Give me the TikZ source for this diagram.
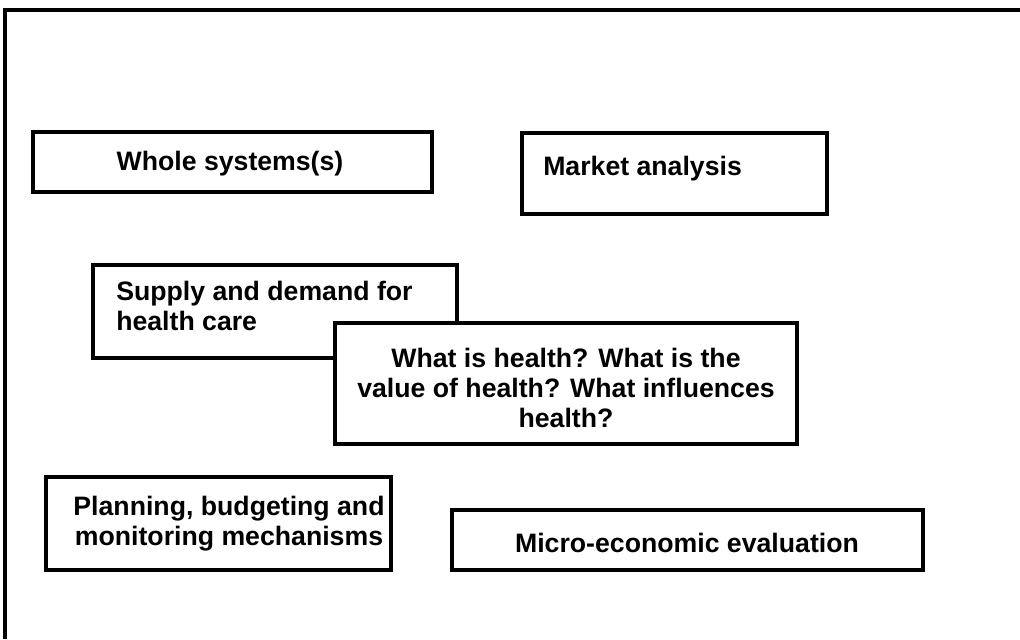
\documentclass[tikz,border=0pt]{standalone}
\usepackage{fontspec}
\setmainfont{Liberation Sans}
\usetikzlibrary{positioning}
\tikzset{
  panel/.style={draw=black, line width=3pt, fill=white},
  caption/.style={inner sep=0pt, font=\fontsize{20}{22.5}\selectfont\bfseries}
}
\begin{document}
\begin{tikzpicture}[x=0.75pt,y=-0.75pt]
    \useasboundingbox (0,0) rectangle (1020,639);
    % outer frame, open on the right and at the bottom
    \draw[line width=2.6pt] (1020,10) -- (5,10) -- (5,639);
		\draw[panel] (33,132) rectangle (432,192);
		\node[caption] (whole) at (230,164) {Whole systems(s)};
		\draw[panel] (522,133) rectangle (827,214);
		\node[caption, anchor=base west] (market) at (543,175) {Market analysis};
		\draw[panel] (93,265) rectangle (457,358);
		\node[caption, anchor=north west, align=left] (supply) at (116,281) {Supply and demand for\\health care};
		\draw[panel] (335,323) rectangle (797,444);
		\node[caption, anchor=north, align=center] (health) at (566,348) {What is health? What is the\\value of health? What influences\\health?};
		\draw[panel] (46,477) rectangle (391,570);
		\node[caption, anchor=north, align=center] (planning) at (229,496) {Planning, budgeting and\\monitoring mechanisms};
		\draw[panel] (452,510) rectangle (923,570);
		\node[caption, anchor=base] (micro) at (687,552) {Micro-economic evaluation};
\end{tikzpicture}
\end{document}
